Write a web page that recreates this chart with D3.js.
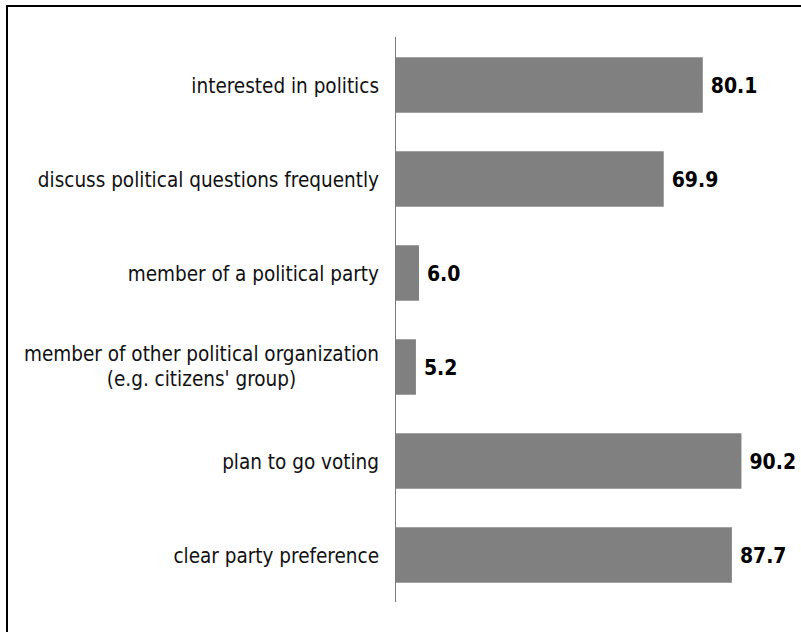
<!DOCTYPE html>
<html>
<head>
<meta charset="utf-8">
<script src="https://cdn.jsdelivr.net/npm/d3@7"></script>
<style>
  body { margin: 0; background: #fff; }
  text { font-family: "DejaVu Sans Condensed", "DejaVu Sans", sans-serif; }
</style>
</head>
<body>
<div id="chart"></div>
<script>
// data
var categories = [
  ["interested in politics"],
  ["discuss political questions frequently"],
  ["member of a political party"],
  ["member of other political organization", "(e.g. citizens' group)"],
  ["plan to go voting"],
  ["clear party preference"]
];
var values = [80.1, 69.9, 6.0, 5.2, 90.2, 87.7];

var W = 801, H = 632;
var svg = d3.select("#chart").append("svg")
  .attr("width", W).attr("height", H);

// frame (right/bottom edges fall outside the picture)
svg.append("rect")
  .attr("x", 7).attr("y", 6)
  .attr("width", W + 20).attr("height", H + 20)
  .attr("fill", "none").attr("stroke", "#000").attr("stroke-width", 2);

var x = d3.scaleLinear().domain([0, 100]).range([396, 779]);
var y = d3.scaleBand()
  .domain(d3.range(values.length))
  .range([38, 602])
  .paddingInner(0.41)
  .paddingOuter(0.205);

// bars
svg.append("g").selectAll("rect")
  .data(values)
  .join("rect")
    .attr("x", x(0))
    .attr("y", function(d, i) { return y(i); })
    .attr("width", function(d) { return x(d) - x(0); })
    .attr("height", y.bandwidth())
    .attr("fill", "#808080");

// vertical axis line
svg.append("line")
  .attr("x1", x(0) - 0.5).attr("x2", x(0) - 0.5)
  .attr("y1", 37).attr("y2", 602)
  .attr("stroke", "#7a7a7a").attr("stroke-width", 1);

// value labels
svg.append("g").selectAll("text")
  .data(values)
  .join("text")
    .attr("x", function(d) { return x(d) + 8; })
    .attr("y", function(d, i) { return y(i) + y.bandwidth() / 2 + 7.5; })
    .attr("font-size", 21)
    .attr("font-weight", "bold")
    .attr("fill", "#000")
    .text(function(d) { return d.toFixed(1); });

// category labels, multi-line ones centred inside a right-aligned block
var labelRight = 379;
var lab = svg.append("g").selectAll("g")
  .data(categories)
  .join("g");

lab.each(function(lines, i) {
  var g = d3.select(this);
  var cy = y(i) + y.bandwidth() / 2;
  var lh = 25;
  var top = cy + 7.5 - (lines.length - 1) * 14;
  var texts = lines.map(function(s, k) {
    return g.append("text")
      .attr("y", top + k * lh)
      .attr("font-size", 20.5)
      .attr("fill", "#111")
      .text(s);
  });
  var widths = texts.map(function(t) { return t.node().getComputedTextLength(); });
  var maxW = d3.max(widths);
  texts.forEach(function(t) {
    t.attr("x", labelRight - maxW / 2).attr("text-anchor", "middle");
  });
});
</script>
</body>
</html>
